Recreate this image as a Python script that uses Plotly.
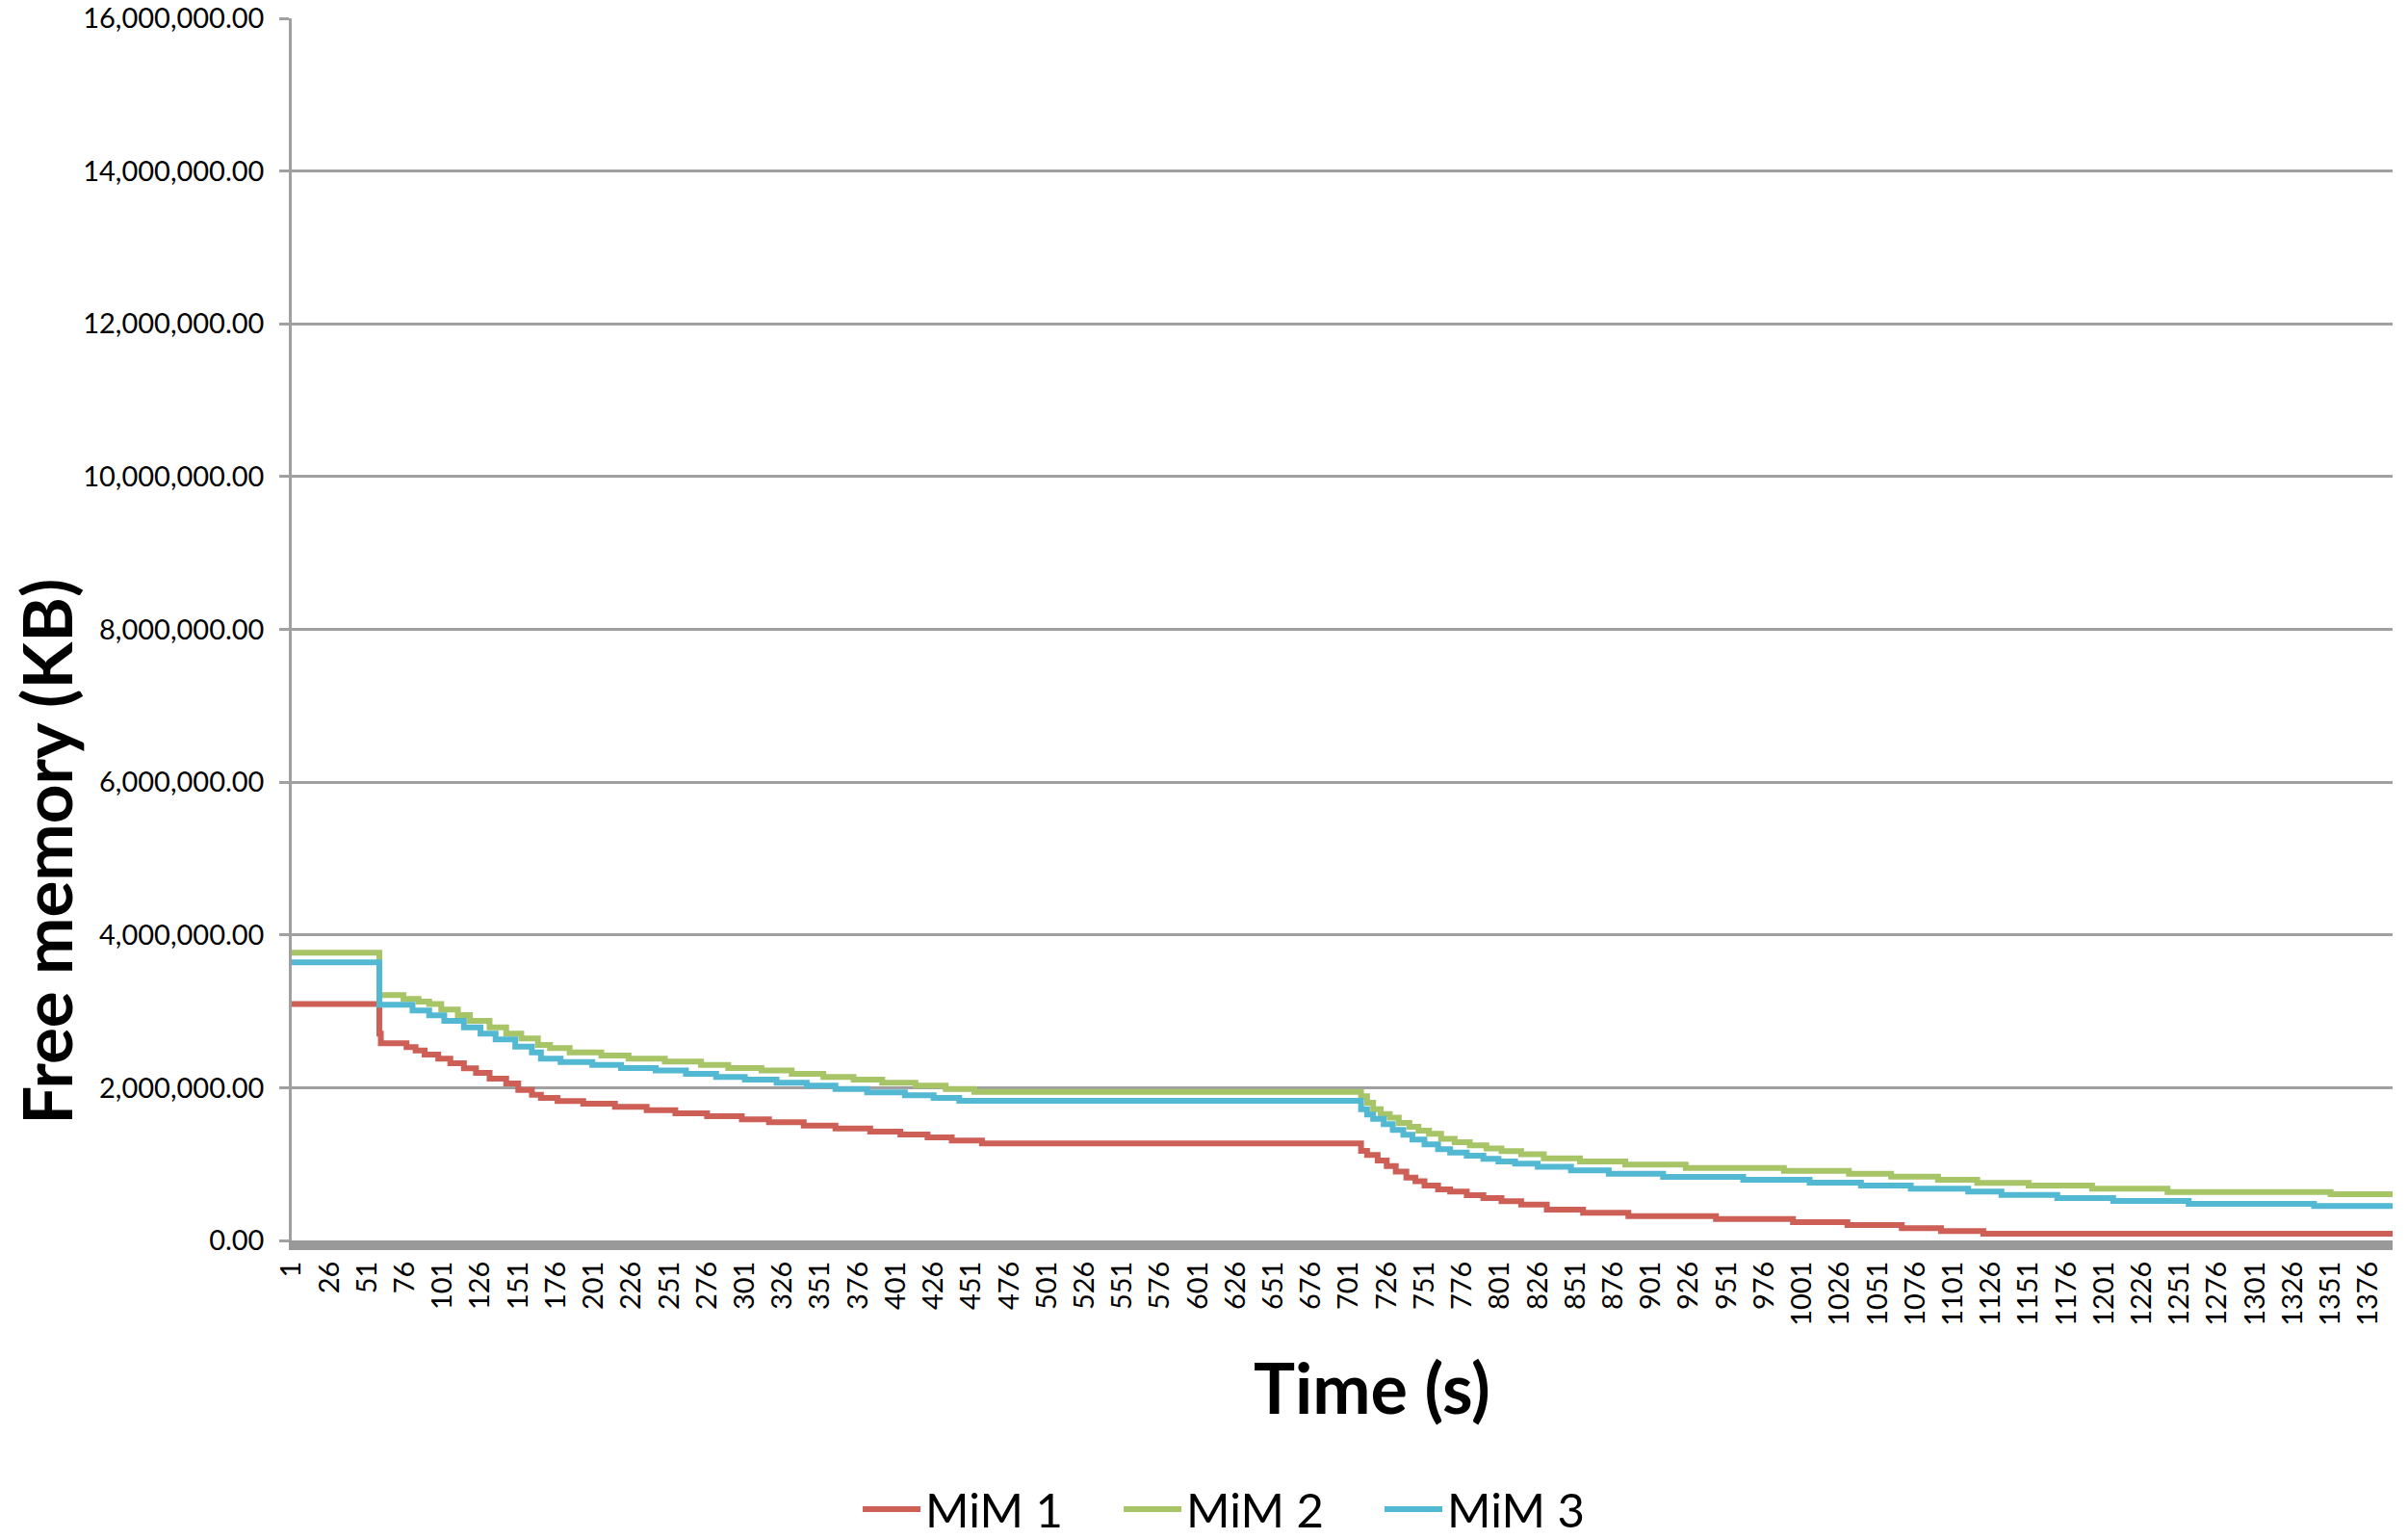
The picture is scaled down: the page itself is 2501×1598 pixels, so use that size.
import plotly.graph_objects as go

# ---- data ----
# change points (second index) and free memory (KB) held from that second on
mim1_t = [1, 59, 60, 77, 83, 89, 98, 106, 115, 123, 132, 143, 151, 160, 166, 177, 194, 215, 236, 255, 276,
          299, 317, 340, 361, 384, 404, 422, 438, 458, 707,
          709, 713, 720, 726, 732, 739, 745, 751, 760, 768, 779, 790, 802, 815, 832, 856, 886, 944, 995,
          1031, 1067, 1093, 1121, 1392]
mim1_kb = [3094000, 2707000, 2580000, 2531000, 2488000, 2434000, 2379000, 2320000, 2253000, 2194000, 2119000,
           2055000, 1971000, 1908000, 1866000, 1824000, 1791000, 1749000, 1706000, 1665000, 1627000,
           1585000, 1547000, 1505000, 1467000, 1425000, 1387000, 1349000, 1307000, 1270000, 1270000,
           1173000, 1118000, 1047000, 975000, 900000, 824000, 774000, 719000, 668000, 639000, 593000, 555000,
           513000, 471000, 404000, 362000, 319000, 281000, 240000, 202000, 160000, 122000, 88000, 88000]

mim2_t = [1, 59, 75, 85, 92, 100, 111, 119, 132, 143, 153, 164, 172, 185, 206, 224, 248, 272,
          290, 312, 332, 353, 373, 392, 414, 434, 453, 706,
          709, 713, 717, 722, 728, 734, 741, 747, 754, 762, 771, 781, 792, 802, 815, 830, 854, 884, 924,
          989, 1032, 1060, 1091, 1117, 1151, 1193, 1243, 1351, 1392]
mim2_kb = [3766000, 3211000, 3161000, 3127000, 3094000, 3022000, 2951000, 2875000, 2791000, 2707000, 2644000,
           2560000, 2518000, 2463000, 2421000, 2379000, 2342000, 2299000,
           2257000, 2224000, 2182000, 2140000, 2106000, 2064000, 2026000, 1984000, 1945000, 1945000,
           1887000, 1803000, 1719000, 1656000, 1606000, 1539000, 1488000, 1438000, 1396000, 1329000, 1287000,
           1245000, 1203000, 1169000, 1127000, 1076000, 1034000, 992000, 950000, 912000, 874000, 836000,
           794000, 753000, 719000, 677000, 635000, 605000, 605000]

mim3_t = [1, 59, 81, 92, 102, 115, 126, 136, 149, 160, 166, 179, 200, 219, 242, 262, 282,
          301, 322, 342, 361, 382, 407, 426, 443, 706,
          709, 713, 717, 724, 730, 737, 743, 751, 760, 768, 779, 790, 800, 811, 826, 848, 873, 909, 962,
          1006, 1040, 1073, 1111, 1133, 1170, 1207, 1257, 1340, 1392]
mim3_kb = [3640000, 3086000, 3010000, 2947000, 2875000, 2791000, 2707000, 2632000, 2539000, 2463000, 2379000,
           2337000, 2299000, 2257000, 2224000, 2182000, 2140000,
           2106000, 2064000, 2026000, 1984000, 1938000, 1900000, 1866000, 1828000, 1828000,
           1719000, 1648000, 1593000, 1522000, 1446000, 1383000, 1320000, 1257000, 1194000, 1152000, 1110000,
           1068000, 1034000, 1005000, 963000, 916000, 874000, 832000, 794000, 757000, 719000, 677000, 639000,
           597000, 555000, 517000, 479000, 450000, 450000]

series_names = ["MiM 1", "MiM 2", "MiM 3"]
series_colors = ["#CD5F57", "#A7C467", "#53B8D1"]

x_tick_vals = list(range(1, 1392, 25))
x_tick_text = [str(v) for v in x_tick_vals]
y_tick_vals = [0, 2000000, 4000000, 6000000, 8000000, 10000000, 12000000, 14000000, 16000000]

# ---- figure ----
fig = go.Figure()
for name, color, t, kb in zip(series_names, series_colors,
                              [mim1_t, mim2_t, mim3_t], [mim1_kb, mim2_kb, mim3_kb]):
    fig.add_trace(go.Scatter(x=t, y=kb, mode="lines", name=name,
                             line=dict(color=color, width=6, shape="hv")))

grid_col = "#A0A0A0"
fig.update_layout(
    width=2501, height=1598,
    margin=dict(l=303, r=16, t=19, b=310, autoexpand=False),
    paper_bgcolor="white", plot_bgcolor="white",
    font=dict(family="Lato", color="black"),
    showlegend=True,
    legend=dict(orientation="h", x=0.2695, y=-0.220, xanchor="left", yanchor="middle",
                font=dict(family="Lato", size=49, color="black"), itemwidth=60,
                entrywidth=196, tracegroupgap=0,
                bgcolor="rgba(0,0,0,0)"),
    xaxis=dict(range=[1, 1392], tickmode="array", tickvals=x_tick_vals, ticktext=x_tick_text,
               tickangle=-90, tickfont=dict(family="Lato", size=29, color="black"),
               showgrid=False, zeroline=False, showline=True, linewidth=10, linecolor="#999999",
               ticks="", automargin=False),
    yaxis=dict(range=[0, 16000000], tickmode="array", tickvals=y_tick_vals, tickformat=",.2f",
               tickfont=dict(family="Lato", size=29, color="black"),
               showgrid=True, gridcolor=grid_col, gridwidth=2.5, zeroline=False,
               showline=True, linewidth=2.5, linecolor=grid_col,
               ticks="outside", ticklen=10, tickwidth=2.5, tickcolor=grid_col,
               ticklabelstandoff=10, automargin=False),
    annotations=[
        dict(text="Free memory (KB)", xref="paper", yref="paper", x=-0.1169, y=0.3184,
             xanchor="center", yanchor="middle", textangle=-90, showarrow=False,
             font=dict(family="Lato", size=71, color="black", weight="bold")),
        dict(text="Time (s)", xref="paper", yref="paper", x=0.5142, y=-0.1198,
             xanchor="center", yanchor="middle", showarrow=False,
             font=dict(family="Lato", size=72, color="black", weight="bold")),
    ],
)

fig.write_html("out.html")
